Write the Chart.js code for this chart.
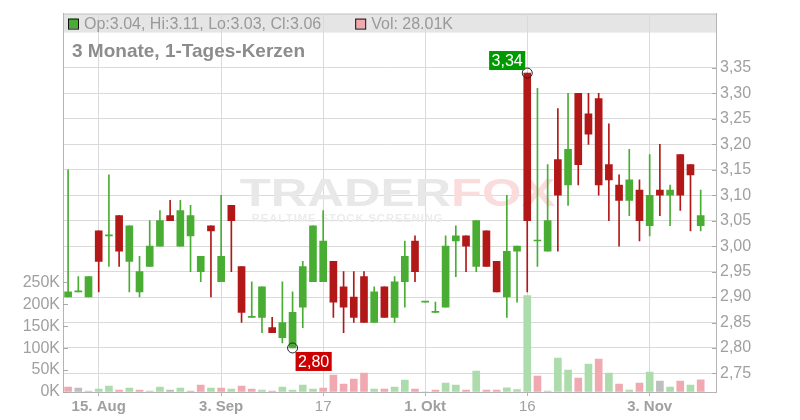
<!DOCTYPE html>
<html>
<head>
<meta charset="utf-8">
<script src="https://cdn.jsdelivr.net/npm/chart.js@4/dist/chart.umd.min.js"></script>
<style>
  html, body { margin: 0; padding: 0; background: #fff; }
  #chart { display: block; }
</style>
</head>
<body>
<canvas id="chart" width="800" height="420"></canvas>
<script>
// 3 Monate, 1-Tages-Kerzen: daily OHLC candles with volume underneath

const openPrices = [
  2.90, 2.91, 2.90, 3.03, 3.02, 3.06, 2.97, 2.91, 2.96, 3.00, 3.06, 3.00, 3.02, 2.95, 3.04, 2.93,
  3.08, 2.96, 2.86, 2.86, 2.84, 2.82, 2.80, 2.88, 2.93, 2.93, 2.97, 2.92, 2.90, 2.94, 2.85, 2.92,
  2.86, 2.93, 3.01, 2.89, 2.87, 2.88, 3.01, 3.02, 2.96, 3.03, 2.97, 2.90, 2.99, 3.34, 3.01, 2.99,
  3.17, 3.12, 3.30, 3.26, 3.29, 3.16, 3.12, 3.09, 3.11, 3.04, 3.11, 3.10, 3.18, 3.16, 3.04,
];
const highPrices = [
  3.15, 2.94, 2.94, 3.03, 3.14, 3.06, 3.04, 2.98, 3.05, 3.07, 3.09, 3.09, 3.08, 2.98, 3.04, 3.10,
  3.08, 2.96, 2.93, 2.92, 2.86, 2.93, 2.91, 2.97, 3.04, 3.07, 2.97, 2.95, 2.95, 2.95, 2.92, 2.92,
  2.94, 3.01, 3.02, 2.89, 2.89, 3.02, 3.04, 3.02, 3.05, 3.03, 2.97, 3.10, 3.00, 3.34, 3.31, 3.16,
  3.27, 3.30, 3.30, 3.30, 3.30, 3.24, 3.14, 3.19, 3.13, 3.18, 3.20, 3.12, 3.18, 3.16, 3.11,
];
const lowPrices = [
  2.90, 2.91, 2.90, 2.91, 2.96, 2.96, 2.91, 2.90, 2.96, 3.00, 3.05, 3.00, 2.95, 2.93, 2.90, 2.93,
  2.95, 2.85, 2.86, 2.83, 2.83, 2.81, 2.80, 2.84, 2.93, 2.93, 2.86, 2.83, 2.85, 2.85, 2.85, 2.86,
  2.85, 2.88, 2.93, 2.89, 2.87, 2.88, 2.94, 2.95, 2.95, 2.96, 2.91, 2.86, 2.89, 2.91, 2.96, 2.99,
  2.99, 3.08, 3.12, 3.20, 3.10, 3.05, 3.00, 3.06, 3.01, 3.02, 3.06, 3.04, 3.07, 3.03, 3.03,
];
const closePrices = [
  2.91, 2.91, 2.94, 2.97, 3.02, 2.99, 3.04, 2.95, 3.00, 3.05, 3.05, 3.07, 3.06, 2.98, 3.03, 2.98,
  3.05, 2.87, 2.86, 2.92, 2.83, 2.85, 2.87, 2.96, 3.04, 3.01, 2.89, 2.88, 2.86, 2.85, 2.91, 2.86,
  2.93, 2.98, 2.95, 2.89, 2.87, 3.00, 3.02, 3.00, 3.05, 2.96, 2.91, 2.99, 3.00, 3.05, 3.01, 3.05,
  3.10, 3.19, 3.16, 3.22, 3.12, 3.13, 3.09, 3.13, 3.05, 3.10, 3.10, 3.11, 3.10, 3.14, 3.06,
];
// volume in thousands of shares
const volumeK = [
  11.4, 9.1, 2.3, 6.8, 13.6, 4.5, 9.1, 4.5, 2.3, 11.4, 4.5, 9.1, 2.3, 15.9, 9.1, 9.1,
  6.8, 13.6, 6.8, 4.5, 2.3, 11.4, 4.5, 15.9, 6.8, 9.1, 38.6, 18.2, 29.5, 43.2, 6.8, 6.8,
  11.4, 27.3, 6.8, 0, 4.5, 20.5, 15.9, 4.5, 47.7, 4.5, 4.5, 9.8, 5.3, 220, 36.4, 2.3,
  77.3, 50, 31.8, 63.6, 75, 43.2, 18.2, 4.5, 20.5, 45.5, 25, 11.4, 25, 15.9, 28.01,
];
const closeBeforeFirst = 2.92; // day before the window, only sets the first volume colour

// one spare empty slot is kept at the right edge, like the original
const slotCount = 64;
const dateTickIndex = [3, 15, 25, 35, 45, 57];
const dateTickText = ['15. Aug', '3. Sep', '17', '1. Okt', '16', '3. Nov'];
const dateTickBold = [true, true, false, true, false, true];

const priceTicks = [2.75, 2.80, 2.85, 2.90, 2.95, 3.00, 3.05, 3.10, 3.15, 3.20, 3.25, 3.30, 3.35];
const volumeTicks = [0, 50, 100, 150, 200, 250];

const GREEN = '#49ad33';
const RED = '#b31818';
const VOL_UP = '#acdcab';
const VOL_DOWN = '#f0a9b1';
const VOL_FLAT = '#bebebe';
const GRID = '#dadada';
const AXIS = '#b4b4b4';
const TEXT = '#a0a0a0';

Chart.defaults.font.family = '"Liberation Sans", Arial, sans-serif';

const labels = Array.from({ length: slotCount }, (_, i) => i);
const candleColor = openPrices.map((o, i) => (closePrices[i] >= o ? GREEN : RED));
const bodies = openPrices.map((o, i) => [o, closePrices[i]]);
const wicks = lowPrices.map((l, i) => [l, highPrices[i]]);
const volumeColor = closePrices.map((c, i) => {
  const prev = i ? closePrices[i - 1] : closeBeforeFirst;
  if (c > prev) return VOL_UP;
  if (c < prev) return VOL_DOWN;
  return VOL_FLAT;
});

const fmtPrice = (v) => v.toFixed(2).replace('.', ',');

const decor = {
  id: 'decor',
  beforeDraw(chart) {
    const { ctx, chartArea: a } = chart;
    ctx.save();
    ctx.fillStyle = '#e5e5e5';
    ctx.fillRect(a.left, a.top, a.right - a.left, 19);
    ctx.strokeStyle = '#c4c4c4';
    ctx.lineWidth = 1;
    ctx.beginPath();
    ctx.moveTo(a.left, a.top + 0.5);
    ctx.lineTo(a.right, a.top + 0.5);
    ctx.stroke();
    ctx.restore();
  },
  beforeDatasetsDraw(chart) {
    // faint TRADERFOX watermark
    const { ctx, chartArea: a } = chart;
    const cx = (a.left + a.right) / 2 + 8;
    ctx.save();
    ctx.font = 'bold 39px "Liberation Sans", Arial, sans-serif';
    ctx.textBaseline = 'alphabetic';
    const w1 = ctx.measureText('TRADER').width;
    const w2 = ctx.measureText('FOX').width;
    const sx = 1.3;
    const x0 = cx - ((w1 + w2) * sx) / 2;
    ctx.translate(x0, 206);
    ctx.scale(sx, 1);
    ctx.fillStyle = '#e8e8e8';
    ctx.fillText('TRADER', 0, 0);
    ctx.fillStyle = '#fbdcdc';
    ctx.fillText('FOX', w1, 0);
    ctx.setTransform(1, 0, 0, 1, 0, 0);
    ctx.font = 'bold 10px "Liberation Sans", Arial, sans-serif';
    ctx.fillStyle = '#ececec';
    ctx.translate(x0 + 12, 222);
    ctx.scale(1.12, 1);
    ctx.fillText('REALTIME STOCK SCREENING'.split('').join(String.fromCharCode(8202)), 0, 0);
    ctx.restore();
  },
  afterDraw(chart) {
    const { ctx, chartArea: a, scales } = chart;
    const last = openPrices.length - 1;
    ctx.save();

    // inner tick marks on both value axes
    ctx.strokeStyle = '#a8a8a8';
    ctx.lineWidth = 1;
    volumeTicks.forEach((v) => {
      const y = Math.round(scales.vol.getPixelForValue(v)) + 0.5;
      ctx.beginPath();
      ctx.moveTo(a.left, y);
      ctx.lineTo(a.left + 5, y);
      ctx.stroke();
    });
    priceTicks.forEach((v) => {
      const y = Math.round(scales.price.getPixelForValue(v)) + 0.5;
      ctx.beginPath();
      ctx.moveTo(a.right - 4, y);
      ctx.lineTo(a.right, y);
      ctx.stroke();
    });

    // legend row in the grey band
    ctx.font = '16px "Liberation Sans", Arial, sans-serif';
    ctx.textBaseline = 'middle';
    const ly = a.top + 10;
    const ohlc = `Op:${openPrices[last].toFixed(2)}, Hi:${highPrices[last].toFixed(2)}, `
      + `Lo:${lowPrices[last].toFixed(2)}, Cl:${closePrices[last].toFixed(2)}`;
    const volTxt = `Vol: ${volumeK[last].toFixed(2)}K`;
    let x = a.left + 5;
    [[GREEN, ohlc], [VOL_DOWN, volTxt]].forEach(([col, txt]) => {
      ctx.fillStyle = col;
      ctx.fillRect(x, ly - 5, 10, 10);
      ctx.strokeStyle = '#111';
      ctx.strokeRect(x + 0.5, ly - 4.5, 10, 10);
      ctx.fillStyle = '#999';
      ctx.fillText(txt, x + 16, ly + 1);
      x += 16 + ctx.measureText(txt).width + 34;
    });

    // title
    ctx.font = 'bold 19px "Liberation Sans", Arial, sans-serif';
    ctx.textBaseline = 'alphabetic';
    ctx.fillStyle = '#8c8c8c';
    ctx.fillText('3 Monate, 1-Tages-Kerzen', a.left + 9, a.top + 43);

    // period high / low markers
    const hiIdx = highPrices.indexOf(Math.max(...highPrices));
    const loIdx = lowPrices.indexOf(Math.min(...lowPrices));
    const marks = [
      { i: hiIdx, v: highPrices[hiIdx], col: '#009a00', above: true },
      { i: loIdx, v: lowPrices[loIdx], col: '#cc0000', above: false },
    ];
    ctx.font = '16px "Liberation Sans", Arial, sans-serif';
    ctx.textAlign = 'center';
    ctx.textBaseline = 'middle';
    marks.forEach((m) => {
      const px = scales.x.getPixelForValue(m.i);
      const py = scales.price.getPixelForValue(m.v);
      ctx.beginPath();
      ctx.arc(px, py, 5, 0, Math.PI * 2);
      ctx.strokeStyle = '#222';
      ctx.lineWidth = 1;
      ctx.stroke();
      const txt = fmtPrice(m.v);
      const w = ctx.measureText(txt).width + 5;
      const h = 19;
      const bx = m.above ? px - 2 - w : px + 3;
      const by = m.above ? py - 3 - h : py + 4;
      ctx.fillStyle = m.col;
      ctx.fillRect(bx, by, w, h);
      ctx.fillStyle = '#fff';
      ctx.fillText(txt, bx + w / 2, by + h / 2 + 1);
    });
    ctx.restore();
  },
};

const dateTickPos = (i) => dateTickIndex.indexOf(i);

new Chart(document.getElementById('chart'), {
  type: 'bar',
  data: {
    labels,
    datasets: [
      {
        label: 'body',
        data: bodies,
        yAxisID: 'price',
        backgroundColor: candleColor,
        barThickness: 7,
        minBarLength: 1,
        grouped: false,
        order: 0,
      },
      {
        label: 'wick',
        data: wicks,
        yAxisID: 'price',
        backgroundColor: candleColor,
        barThickness: 1,
        grouped: false,
        order: 1,
      },
      {
        label: 'volume',
        data: volumeK,
        yAxisID: 'vol',
        backgroundColor: volumeColor,
        barThickness: 7,
        grouped: false,
        order: 2,
      },
    ],
  },
  options: {
    responsive: false,
    animation: false,
    layout: { padding: { top: 11, left: 0, right: 0, bottom: 0 } },
    plugins: {
      legend: { display: false },
      tooltip: { enabled: false },
    },
    scales: {
      x: {
        offset: true,
        grid: {
          offset: false,
          color: (c) => (dateTickPos(c.index) >= 0 ? GRID : 'rgba(0,0,0,0)'),
          tickColor: (c) => (dateTickPos(c.index) >= 0 ? AXIS : 'rgba(0,0,0,0)'),
          tickLength: 4,
        },
        border: { color: AXIS },
        ticks: {
          autoSkip: false,
          maxRotation: 0,
          padding: 2,
          color: TEXT,
          font: (c) => ({ size: 15, weight: dateTickBold[dateTickPos(c.index)] ? 'bold' : 'normal' }),
          callback: (v, i) => (dateTickPos(i) >= 0 ? dateTickText[dateTickPos(i)] : ''),
        },
        afterFit: (s) => { s.height = 28; },
      },
      price: {
        axis: 'y',
        position: 'right',
        min: 2.7135,
        max: 3.4567,
        afterBuildTicks: (s) => { s.ticks = priceTicks.map((value) => ({ value })); },
        grid: { color: GRID, drawTicks: false },
        border: { color: AXIS },
        ticks: {
          padding: 4,
          color: TEXT,
          font: { size: 16 },
          callback: (v) => fmtPrice(v),
        },
        afterFit: (s) => { s.width = 84; },
      },
      vol: {
        axis: 'y',
        position: 'left',
        min: 0,
        max: 863.6,
        afterBuildTicks: (s) => { s.ticks = volumeTicks.map((value) => ({ value })); },
        grid: { drawOnChartArea: false, drawTicks: false },
        border: { color: AXIS },
        ticks: {
          padding: 3,
          color: TEXT,
          font: { size: 16 },
          callback: (v) => `${v}K`,
        },
        afterFit: (s) => { s.width = 63; },
      },
    },
  },
  plugins: [decor],
});
</script>
</body>
</html>
